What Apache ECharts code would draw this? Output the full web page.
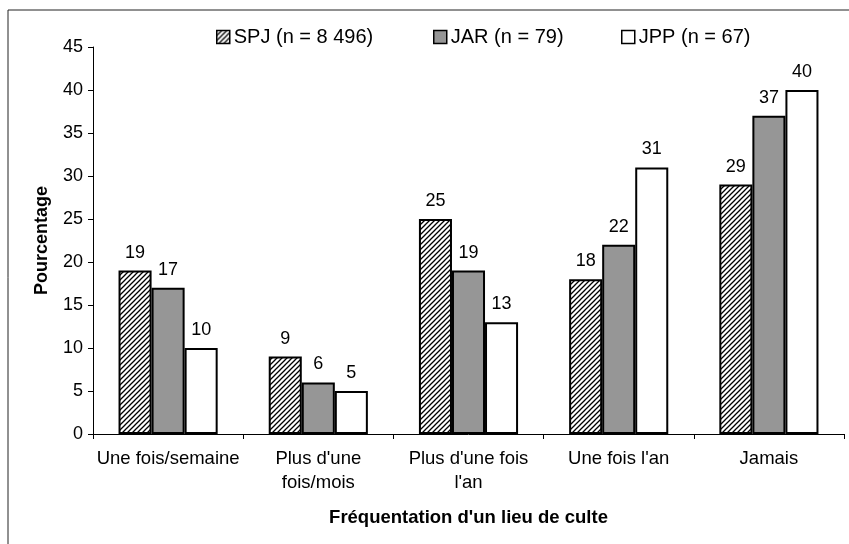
<!DOCTYPE html>
<html>
<head>
<meta charset="utf-8">
<script src="https://cdn.jsdelivr.net/npm/echarts@6/dist/echarts.min.js"></script>
<style>
  html, body { margin: 0; padding: 0; background: #fff; }
  #chart { width: 849px; height: 544px; }
</style>
</head>
<body>
<div id="chart"></div>
<script>
// données
var categories = ['Une fois/semaine', "Plus d'une\nfois/mois", "Plus d'une fois\nl'an", "Une fois l'an", 'Jamais'];
var seriesNames = ['SPJ (n = 8 496)', 'JAR (n = 79)', 'JPP (n = 67)'];
var spj = [19, 9, 25, 18, 29];
var jar = [17, 6, 19, 22, 37];
var jpp = [10, 5, 13, 31, 40];
var yTicks = { min: 0, max: 45, interval: 5 };

var FONT = 'Liberation Sans, Arial, sans-serif';

// motif hachuré (lignes diagonales)
function hatch() {
  var c = document.createElement('canvas');
  c.width = 5;
  c.height = 5;
  var ctx = c.getContext('2d');
  ctx.fillStyle = '#fff';
  ctx.fillRect(0, 0, 5, 5);
  ctx.strokeStyle = '#000';
  ctx.lineWidth = 1.3;
  ctx.beginPath();
  ctx.moveTo(-1, 6); ctx.lineTo(6, -1);
  ctx.moveTo(-1, 1); ctx.lineTo(1, -1);
  ctx.moveTo(4, 6); ctx.lineTo(6, 4);
  ctx.stroke();
  return { image: c, repeat: 'repeat' };
}

var chart = echarts.init(document.getElementById('chart'));

function barSeries(name, data, color) {
  return {
    name: name,
    type: 'bar',
    data: data,
    barGap: '0%',
    barCategoryGap: '34%',
    itemStyle: { color: color, borderColor: '#000', borderWidth: 2 },
    label: {
      show: true,
      position: 'top',
      distance: 9,
      color: '#000',
      fontFamily: FONT,
      fontSize: 18
    }
  };
}

// une légende par série pour placer chaque entrée
function legendAt(name, left) {
  return {
    data: [name],
    left: left,
    top: 22,
    itemWidth: 13,
    itemHeight: 13,
    icon: 'rect',
    itemStyle: { borderWidth: 1.5, borderColor: '#000' },
    textStyle: { fontFamily: FONT, fontSize: 20, color: '#000', padding: [0, 0, 0, -1] }
  };
}

var option = {
  animation: false,
  backgroundColor: '#fff',
  graphic: [{
    type: 'rect',
    shape: { x: 8, y: 10, width: 900, height: 600 },
    style: { fill: 'none', stroke: '#222', lineWidth: 1 }
  }],
  legend: [
    legendAt(seriesNames[0], 211),
    legendAt(seriesNames[1], 428),
    legendAt(seriesNames[2], 616)
  ],
  grid: { left: 93, right: 5, top: 47, bottom: 110, containLabel: false },
  xAxis: {
    type: 'category',
    data: categories,
    name: "Fréquentation d'un lieu de culte",
    nameLocation: 'middle',
    nameGap: 74,
    nameTextStyle: { fontFamily: FONT, fontSize: 18.5, fontWeight: 'bold', color: '#000' },
    axisLine: { lineStyle: { color: '#000', width: 1 } },
    axisTick: { show: true, length: 5, lineStyle: { color: '#000' } },
    axisLabel: {
      interval: 0,
      margin: 13,
      fontFamily: FONT,
      fontSize: 18.5,
      lineHeight: 24,
      color: '#000'
    }
  },
  yAxis: {
    type: 'value',
    min: yTicks.min,
    max: yTicks.max,
    interval: yTicks.interval,
    name: 'Pourcentage',
    nameLocation: 'middle',
    nameGap: 42,
    nameRotate: 90,
    nameTextStyle: { fontFamily: FONT, fontSize: 18, fontWeight: 'bold', color: '#000' },
    splitLine: { show: false },
    axisLine: { show: true, lineStyle: { color: '#000', width: 1 } },
    axisTick: { show: true, length: 5, lineStyle: { color: '#000' } },
    axisLabel: { margin: 10, fontFamily: FONT, fontSize: 18, color: '#000' }
  },
  series: [
    barSeries(seriesNames[0], spj, hatch()),
    barSeries(seriesNames[1], jar, '#969696'),
    barSeries(seriesNames[2], jpp, '#fff')
  ]
};

chart.setOption(option);
</script>
</body>
</html>
